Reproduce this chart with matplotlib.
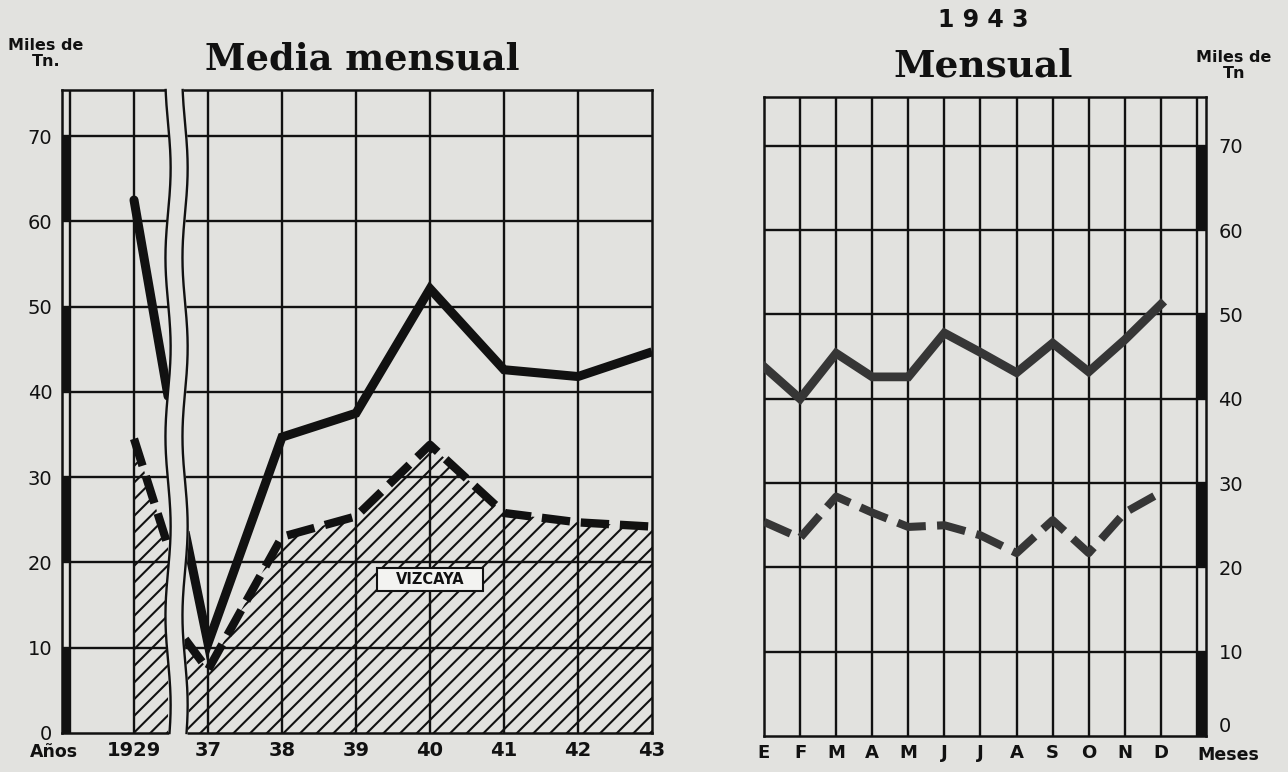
import numpy as np
import matplotlib
matplotlib.use("Agg")
import matplotlib.pyplot as plt
from matplotlib.patches import Rectangle

# ---------------- data (miles de Tn) ----------------
anios = ["1929", "37", "38", "39", "40", "41", "42", "43"]
total_anual = [62.5, 10.5, 34.7, 37.5, 52.1, 42.6, 41.8, 44.7]
vizcaya_anual = [34.5, 7.4, 23.0, 25.4, 33.8, 25.8, 24.7, 24.2]
# values where the lines meet the axis break (left edge, right edge)
total_corte = [39.5, 23.6]
vizcaya_corte = [21.9, 11.0]

meses = ["E", "F", "M", "A", "M", "J", "J", "A", "S", "O", "N", "D"]
total_1943 = [43.8, 40.0, 45.4, 42.6, 42.6, 47.8, 45.5, 43.1, 46.6, 43.2, 47.0, 51.2]
vizcaya_1943 = [25.4, 23.5, 28.4, 26.5, 24.8, 25.0, 23.8, 21.7, 25.6, 21.7, 26.5, 28.9]

y_ticks = [0, 10, 20, 30, 40, 50, 60, 70]
dark_blocks = [0, 20, 40, 60]

# ---------------- style ----------------
BG = "#e2e2df"
INK = "#111111"
plt.rcParams["hatch.color"] = INK
plt.rcParams["hatch.linewidth"] = 1.5
plt.rcParams["font.family"] = ["DejaVu Sans"]

W, H = 1288, 772
fig = plt.figure(figsize=(W / 100, H / 100), dpi=100, facecolor=BG)


def px_axes(l, t, r, b):
    ax = fig.add_axes([l / W, 1 - b / H, (r - l) / W, (b - t) / H])
    ax.set_facecolor(BG)
    for s in ax.spines.values():
        s.set_linewidth(1.8)
        s.set_color(INK)
    ax.tick_params(length=0)
    return ax


# ================= left: Media mensual =================
axA = px_axes(62, 90, 652, 733)
XA0 = -0.973
INNER = -0.865
TOP_A = 75.4
axA.set_xlim(XA0, 7)
axA.set_ylim(0, TOP_A)

xpos = np.arange(len(anios))
for y in y_ticks[1:]:
    axA.axhline(y, color=INK, lw=1.7, zorder=1)
for x in xpos[:-1]:
    axA.axvline(x, color=INK, lw=1.7, zorder=1)
axA.axvline(INNER, color=INK, lw=1.7, zorder=1)
for y0 in dark_blocks:
    axA.add_patch(Rectangle((XA0, y0), INNER - XA0, 10, facecolor=INK,
                            edgecolor="none", zorder=3))

BR_L, BR_R = 0.46, 0.69

# hatched area (Vizcaya)
xl = [0, BR_L]
axA.fill_between(xl, 0, [vizcaya_anual[0], vizcaya_corte[0]],
                 facecolor="none", edgecolor=INK, hatch="//", linewidth=0, zorder=2)
xr = [BR_R] + list(xpos[1:])
axA.fill_between(xr, 0, [vizcaya_corte[1]] + vizcaya_anual[1:],
                 facecolor="none", edgecolor=INK, hatch="//", linewidth=0, zorder=2)

# total line
axA.plot(xl, [total_anual[0], total_corte[0]], color=INK, lw=6.5,
         solid_capstyle="round", zorder=3)
axA.plot(xr, [total_corte[1]] + total_anual[1:], color=INK, lw=6.5,
         solid_joinstyle="miter", solid_capstyle="butt", zorder=3)
# vizcaya dashed line
axA.plot(xl, [vizcaya_anual[0], vizcaya_corte[0]], color=INK, lw=6,
         dashes=(3.4, 1.3), dash_capstyle="butt", zorder=3)
axA.plot(xr, [vizcaya_corte[1]] + vizcaya_anual[1:], color=INK, lw=6,
         dashes=(3.4, 1.3), dash_capstyle="butt", zorder=3)

# wavy break
yy = np.linspace(-0.8, TOP_A + 0.8, 300)
wave = 0.035 * np.sin(2 * np.pi * yy / 21 + 0.6)
axA.fill_betweenx(yy, BR_L + wave, BR_R + wave, color=BG, zorder=4, clip_on=False)
ys = np.linspace(0, TOP_A, 300)
ws = 0.035 * np.sin(2 * np.pi * ys / 21 + 0.6)
axA.plot(BR_L + ws, ys, color=INK, lw=1.7, zorder=5, clip_on=False)
axA.plot(BR_R + ws, ys, color=INK, lw=1.7, zorder=5, clip_on=False)

# VIZCAYA label
axA.add_patch(Rectangle((4 - 0.71, 18 - 1.3), 1.42, 2.6, facecolor="#f3f3f1",
                        edgecolor=INK, lw=1.5, zorder=6))
axA.text(4, 18, "VIZCAYA", ha="center", va="center", fontsize=10.5,
         fontweight="bold", color=INK, zorder=7)

axA.set_yticks(y_ticks)
axA.set_yticklabels([str(v) for v in y_ticks], fontsize=14, color=INK)
axA.tick_params(axis="y", pad=7)
axA.set_xticks(xpos)
axA.set_xticklabels(anios, fontsize=14, fontweight="bold", color=INK)
axA.tick_params(axis="x", pad=6)

# ================= right: 1943 mensual =================
axB = px_axes(764, 97, 1206, 736)
XB1 = 12.25
TOP_B = 75.8
axB.set_xlim(0, XB1)
axB.set_ylim(0, TOP_B)
mpos = np.arange(len(meses))
for y in y_ticks[1:]:
    axB.axhline(y, color=INK, lw=1.7, zorder=1)
for x in list(mpos[1:]) + [12]:
    axB.axvline(x, color=INK, lw=1.7, zorder=1)
for y0 in dark_blocks:
    axB.add_patch(Rectangle((12, y0), XB1 - 12, 10, facecolor=INK,
                            edgecolor="none", zorder=3))

LINE_B = "#363636"
axB.plot(mpos, total_1943, color=LINE_B, lw=6.3, solid_joinstyle="miter", zorder=3)
axB.plot(mpos, vizcaya_1943, color=LINE_B, lw=5.8, dashes=(3.6, 1.4),
         dash_capstyle="butt", zorder=3)

axB.yaxis.tick_right()
axB.set_yticks(y_ticks)
axB.set_yticklabels([str(v) for v in y_ticks], fontsize=14, color=INK)
axB.tick_params(axis="y", pad=9)
axB.get_yticklabels()[0].set_va("bottom")
axB.set_xticks(mpos)
axB.set_xticklabels(meses, fontsize=13, fontweight="bold", color=INK)
axB.tick_params(axis="x", pad=6)

# ================= texts =================
fig.text(362 / W, 1 - 60 / H, "Media mensual", ha="center", va="center",
         family="DejaVu Serif", fontweight="bold", fontsize=26.5, color=INK)
fig.text(983 / W, 1 - 20 / H, "1 9 4 3", ha="center", va="center",
         fontweight="bold", fontsize=17, color=INK)
fig.text(983 / W, 1 - 66 / H, "Mensual", ha="center", va="center",
         family="DejaVu Serif", fontweight="bold", fontsize=27, color=INK)
fig.text(46 / W, 1 - 38 / H, "Miles de\nTn.", ha="center", va="top",
         fontweight="bold", fontsize=11.5, linespacing=1.05, color=INK)
fig.text(1234 / W, 1 - 50 / H, "Miles de\nTn", ha="center", va="top",
         fontweight="bold", fontsize=11.5, linespacing=1.05, color=INK)
fig.text(30 / W, 1 - 752 / H, "Años", ha="left", va="center",
         fontweight="bold", fontsize=12.5, color=INK)
fig.text(1228 / W, 1 - 755 / H, "Meses", ha="center", va="center",
         fontweight="bold", fontsize=12.5, color=INK)

fig.savefig("out.png", dpi=100, facecolor=BG)
